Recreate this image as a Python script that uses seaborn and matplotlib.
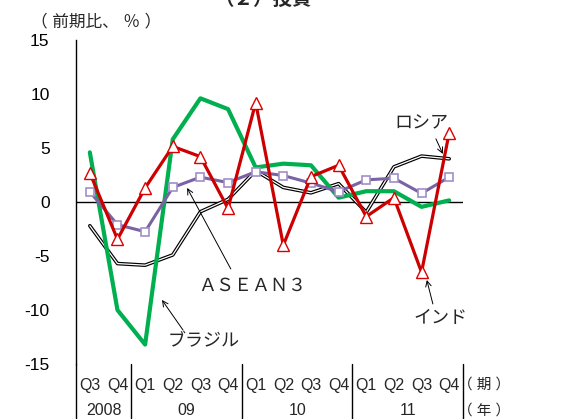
import numpy as np
import pandas as pd
import matplotlib
matplotlib.use("Agg")
import matplotlib.pyplot as plt
import seaborn as sns

# 四半期ラベルと年
quarters = ["Q3", "Q4", "Q1", "Q2", "Q3", "Q4", "Q1", "Q2", "Q3", "Q4",
            "Q1", "Q2", "Q3", "Q4"]
years = ["2008", "09", "10", "11"]
year_counts = [2, 4, 4, 4]

# 前期比（％）
brazil = [4.6, -10.0, -13.2, 5.8, 9.6, 8.6, 3.2, 3.55, 3.4, 0.4, 1.0, 1.0, -0.45, 0.15]
india = [2.7, -3.45, 1.3, 5.15, 4.2, -0.6, 9.2, -4.0, 2.35, 3.4, -1.35, 0.4, -6.5, 6.4]
asean3 = [0.95, -2.1, -2.75, 1.35, 2.3, 1.8, 2.8, 2.45, 1.75, 0.95, 2.05, 2.2, 0.8, 2.3]
russia = [-2.2, -5.7, -5.85, -4.9, -0.9, 0.25, 2.9, 1.35, 0.85, 1.7, -0.95, 3.25, 4.25, 4.0]

df = pd.DataFrame({"x": np.arange(len(quarters)), "brazil": brazil, "india": india,
                   "asean3": asean3, "russia": russia})

sns.set_style("white")
plt.rcParams["font.family"] = ["Liberation Sans", "Noto Sans CJK JP"]

fig = plt.figure(figsize=(5.73, 4.19), dpi=100)
ax = fig.add_axes([76 / 573, 1 - 364 / 419, (463 - 76) / 573, (364 - 40) / 419])

ax.axhline(0, color="black", lw=1, zorder=1)

# ロシア（二重線）
sns.lineplot(data=df, x="x", y="russia", ax=ax, color="black", lw=2.6, zorder=2)
sns.lineplot(data=df, x="x", y="russia", ax=ax, color="white", lw=0.9, zorder=2)
# ブラジル
sns.lineplot(data=df, x="x", y="brazil", ax=ax, color="#00b050", lw=3.0, zorder=3)
# ASEAN3
sns.lineplot(data=df, x="x", y="asean3", ax=ax, color="#7a62a3", lw=2.2, zorder=4,
             marker="s", markersize=6, markerfacecolor="white",
             markeredgecolor="#a08fc8", markeredgewidth=1.2)
# インド
sns.lineplot(data=df, x="x", y="india", ax=ax, color="#cc0000", lw=2.3, zorder=5,
             marker="^", markersize=8, markerfacecolor="white",
             markeredgecolor="#dd0000", markeredgewidth=1.0)

ax.set_xlim(-0.5, len(quarters) - 0.5)
ax.set_ylim(-15, 15)
ax.set_yticks([15, 10, 5, 0, -5, -10, -15])
ax.set_yticklabels(["15", "10", "5", "0", "-5", "-10", "-15"])
ax.tick_params(axis="y", direction="in", length=6, width=1, pad=19,
               labelsize=12.5, colors="black")
ax.set_xticks([])
ax.set_xlabel("")
ax.set_ylabel("")
for s in ["top", "right", "bottom"]:
    ax.spines[s].set_visible(False)
ax.spines["left"].set_color("black")
ax.spines["left"].set_linewidth(1)

# 横軸ラベル（表形式）
trans = ax.get_xaxis_transform()
for i, q in enumerate(quarters):
    ax.text(i, -0.065, q, transform=trans, ha="center", va="center", fontsize=11.5)
bounds = np.concatenate([[0], np.cumsum(year_counts)]) - 0.5
for b in bounds:
    ax.plot([b, b], [0, -0.2], transform=trans, color="black", lw=1, clip_on=False)
for y, a, c in zip(years, bounds[:-1], bounds[1:]):
    ax.text((a + c) / 2, -0.145, y, transform=trans, ha="center", va="center", fontsize=11.5)
ax.text(len(quarters) + 0.28, -0.065, "（ 期 ）", transform=trans, ha="center",
        va="center", fontsize=10.5)
ax.text(len(quarters) + 0.28, -0.145, "（ 年 ）", transform=trans, ha="center",
        va="center", fontsize=10.5)

# 注記
arrow = dict(arrowstyle="->", color="black", lw=0.7, shrinkA=0, shrinkB=0)
ax.text(11.98, 7.2, "ロシア", ha="center", va="center", fontsize=13)
ax.annotate("", xy=(12.77, 4.45), xytext=(12.52, 5.85), arrowprops=arrow)
ax.text(5.87, -7.8, "ＡＳＥＡＮ３", ha="center", va="center", fontsize=13)
ax.annotate("", xy=(3.52, 1.3), xytext=(5.1, -6.2), arrowprops=arrow)
ax.text(4.1, -12.9, "ブラジル", ha="center", va="center", fontsize=13)
ax.annotate("", xy=(2.61, -9.07), xytext=(3.37, -11.85), arrowprops=arrow)
ax.text(12.7, -10.8, "インド", ha="center", va="center", fontsize=13)
ax.annotate("", xy=(12.19, -7.22), xytext=(12.41, -9.44), arrowprops=arrow)

fig.text(96 / 573, 1 - 21 / 419, "（ 前期比、 ％ ）", ha="center", va="center", fontsize=12)
fig.text(263 / 573, 1 - 5 / 419, "（２）投資", ha="center", va="baseline",
         fontsize=14, fontweight="bold")

fig.savefig("out.png", dpi=100)
